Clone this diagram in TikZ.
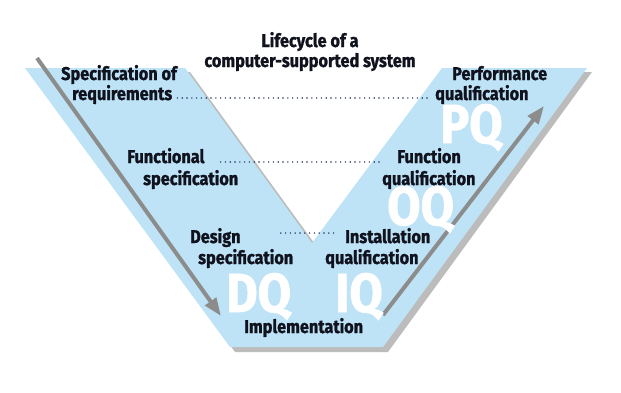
\documentclass[tikz,border=0pt]{standalone}
\usepackage{fontspec}
\setmainfont{Fira Sans}[FakeStretch=0.88, BoldFeatures={FakeBold=1.2}]
\usetikzlibrary{arrows.meta}
\definecolor{vblue}{RGB}{190,227,246}
\definecolor{vshadow}{RGB}{188,188,188}
\definecolor{varrow}{RGB}{140,140,140}
\definecolor{vtext}{RGB}{16,18,30}
\definecolor{vdot}{RGB}{35,50,95}
\begin{document}
\begin{tikzpicture}[x=1pt,y=-1pt,
  lbl/.style={inner sep=0pt, anchor=base west, font=\fontsize{18.5}{20}\selectfont\bfseries, text=vtext},
  ttl/.style={inner sep=0pt, anchor=base, font=\fontsize{18.5}{20}\selectfont\bfseries, text=vtext},
  big/.style={inner sep=0pt, anchor=base west, font=\fontsize{55}{55}\selectfont\bfseries, text=white},
  dotline/.style={vdot, line width=1.6pt, dash pattern=on 0pt off 4.8pt, line cap=round},
  flow/.style={varrow, line width=4pt, -{Triangle[length=18pt,width=13pt]}}]
\useasboundingbox (0,0) rectangle (621,392);
\fill[white] (0,0) rectangle (621,392);
% shadow and V band
\fill[vshadow] (30,72) -- (190,72) -- (317,247) -- (447,72) -- (592,72) -- (388,352) -- (235,352) -- cycle;
\fill[vblue] (25,68) -- (185,68) -- (312,243) -- (442,68) -- (587,68) -- (383,347) -- (230,347) -- cycle;
% flow arrows
\coordinate (a1s) at (37,58);
\coordinate (a1e) at (221,316);
\coordinate (a2s) at (383,315);
\coordinate (a2e) at (544,106);
\draw[flow] (a1s) -- (a1e);
\draw[flow] (a2s) -- (a2e);
% big letters
\node[big] (pq) at (440,143) {PQ};
\node[big] (oq) at (387,225) {OQ};
\node[big] (dq) at (226,312) {DQ};
\node[big] (iq) at (335,312) {IQ};
% title
\node[ttl] (t1) at (310,47) {Lifecycle of a};
\node[ttl] (t2) at (310,67) {computer-supported system};
% left labels
\node[lbl] (spec1) at (61,80) {Specification of};
\node[lbl] (spec2) at (72,100) {requirements};
\node[lbl] (func1) at (127,163) {Functional};
\node[lbl] (func2) at (143,185) {specification};
\node[lbl] (des1) at (190,243) {Design};
\node[lbl] (des2) at (198,264) {specification};
% right labels
\node[lbl] (perf1) at (452,80) {Performance};
\node[lbl] (perf2) at (435,100) {qualification};
\node[lbl] (fq1) at (397,163) {Function};
\node[lbl] (fq2) at (382,185) {qualification};
\node[lbl] (inst1) at (345,243) {Installation};
\node[lbl] (inst2) at (325,264) {qualification};
\node[lbl] (impl) at (244,333) {Implementation};
% dotted links
\draw[dotline] ([xshift=5pt,yshift=2pt]spec2.base east) -- ([xshift=-5pt,yshift=2pt]perf2.base west);
\draw[dotline] ([xshift=16pt,yshift=1pt]func1.base east) -- ([xshift=-14pt,yshift=1pt]fq1.base west);
\draw[dotline] ([xshift=40pt,yshift=10pt]des1.base east) -- ([xshift=-8pt,yshift=10pt]inst1.base west);
\end{tikzpicture}
\end{document}
